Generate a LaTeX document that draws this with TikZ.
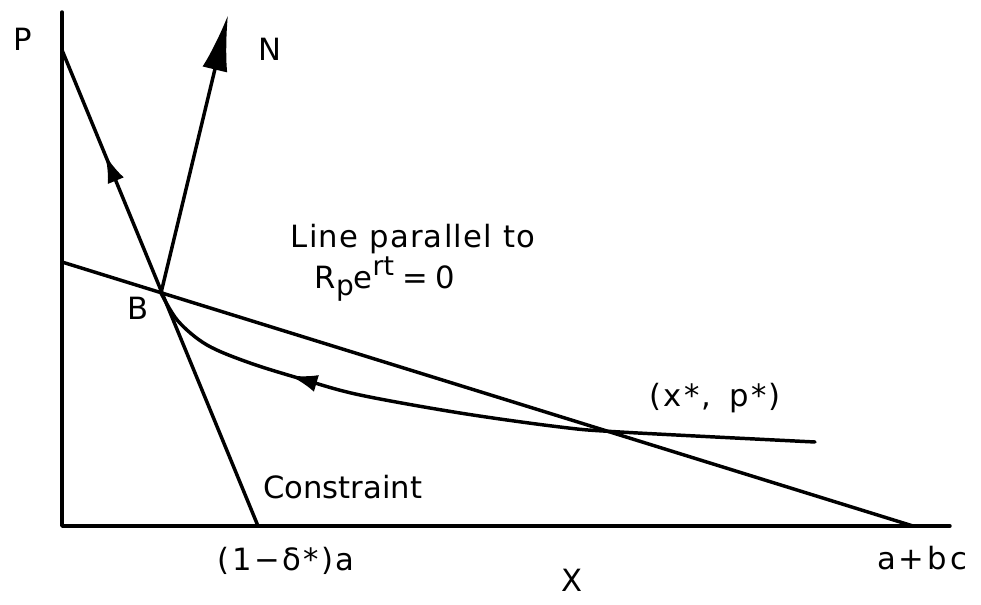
\documentclass[tikz,border=0pt]{standalone}
\usepackage{fontspec}
\setmainfont{DejaVu Sans}
\usetikzlibrary{arrows.meta,decorations.markings}
\begin{document}
\begin{tikzpicture}[x=0.75pt,y=-0.75pt,
  ln/.style={line width=2.6pt,line cap=round,line join=round},
  lbl/.style={inner sep=0pt,font=\fontsize{23}{26}\selectfont},
  wide/.style={font=\fontsize{23}{26}\selectfont\addfontfeature{LetterSpace=#1}},
  bighead/.style={-{Latex[length=42pt,width=19pt]}},
  midarrow/.style={postaction={decorate,decoration={markings,
     mark=at position #1 with {\arrow{Latex[length=21pt,width=13pt]}}}}}
]
\useasboundingbox (0,0) rectangle (981,605);
% coordinates
\coordinate (O) at (62,526);
\coordinate (Ptop) at (62,12);
\coordinate (Xend) at (950,526);
\coordinate (Ctop) at (62,50);
\coordinate (Cbot) at (258,526);
\coordinate (Lleft) at (62,262);
\coordinate (Lright) at (913,526);
\coordinate (B) at (161,293);
\coordinate (Ntip) at (228,15);
\coordinate (Cend) at (815,442);
% axes
\draw[ln] (Ptop) -- (O) -- (Xend);
% constraint line with arrow
\draw[ln,midarrow=0.78] (Cbot) -- (Ctop);
% line parallel
\draw[ln] (Lleft) -- (Lright);
% N arrow
\draw[ln,bighead] (B) -- (Ntip);
% curve
\draw[ln,midarrow=0.77] plot[smooth,tension=0.55] coordinates
  {(Cend) (620,432) (560,427) (460,413) (360,395) (305,380) (250,363) (207,345) (178,321) (B)};
% labels
\node[lbl] (lP) at (23,39) {P};
\node[lbl] (lN) at (270,49) {N};
\node[lbl] (lB) at (138,308) {B};
\node[lbl,wide=4] (lLine) at (413,239) {Line parallel to};
\node[lbl] (lR) at (385,279) {R\raisebox{-0.4ex}{\fontsize{21}{22}\selectfont p}e\raisebox{0.8ex}{\fontsize{20}{22}\selectfont rt}\hspace{6pt}=\hspace{6pt}0};
\node[lbl,wide=8] (lxp) at (715,398) {(x*,\hspace{4pt} p*)};
\node[lbl,anchor=west] (lC) at (263,487) {Constraint};
\node[lbl,wide=8] (lD) at (286,561) {(1−δ*)a};
\node[lbl,wide=10] (lA) at (922,558) {a+bc};
\node[lbl] (lX) at (572,580) {X};
\end{tikzpicture}
\end{document}
